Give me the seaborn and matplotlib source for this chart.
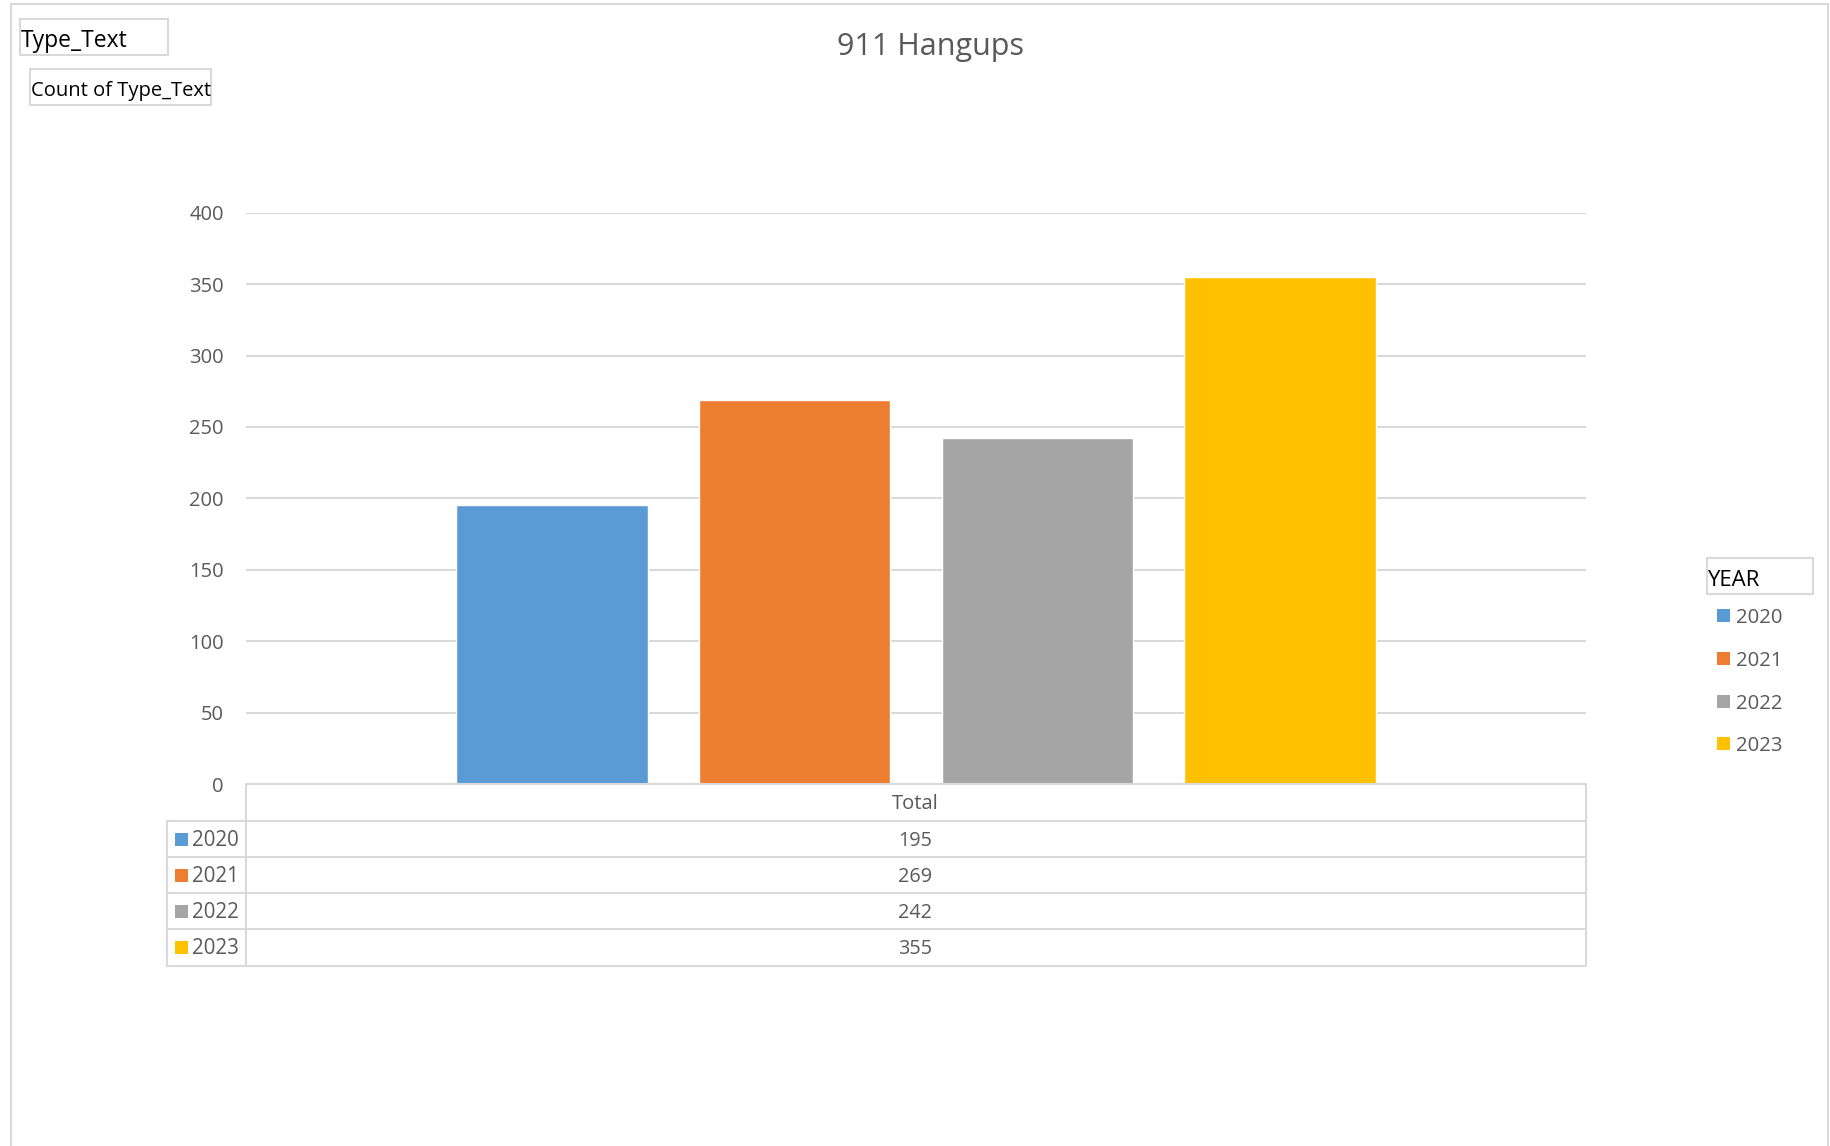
import matplotlib
matplotlib.use("Agg")
import matplotlib.pyplot as plt
from matplotlib.patches import Rectangle
from matplotlib.lines import Line2D
import pandas as pd
import seaborn as sns

years = ["2020", "2021", "2022", "2023"]
counts = [195, 269, 242, 355]
category = "Total"
colors = ["#5B9BD5", "#ED7D31", "#A5A5A5", "#FFC000"]
yticks = [0, 50, 100, 150, 200, 250, 300, 350, 400]

W, H = 1830, 1146
GRID = "#D9D9D9"
TXT = "#595959"

sns.set_style("white")
plt.rcParams["font.family"] = ["Open Sans", "DejaVu Sans"]

df = pd.DataFrame({"cat": [category] * len(years), "YEAR": years, "count": counts})

fig = plt.figure(figsize=(W / 100, H / 100), dpi=100)


def fx(px):
    return px / W


def fy(py):
    return 1 - py / H


def hline(x0, x1, y, color=GRID, lw=1.5):
    fig.add_artist(Line2D([fx(x0), fx(x1)], [fy(y), fy(y)], color=color, lw=lw))


def vline(x, y0, y1, color=GRID, lw=1.5):
    fig.add_artist(Line2D([fx(x), fx(x)], [fy(y0), fy(y1)], color=color, lw=lw))


def box(x0, y0, x1, y1):
    fig.add_artist(Rectangle((fx(x0), fy(y1)), fx(x1) - fx(x0), fy(y0) - fy(y1),
                             fill=False, edgecolor=GRID, lw=1.5))


# plot area
ax_l, ax_r, ax_t, ax_b = 246, 1586, 212.7, 784
ax = fig.add_axes([fx(ax_l), fy(ax_b), fx(ax_r) - fx(ax_l), (ax_b - ax_t) / H])
sns.barplot(df, x="cat", y="count", hue="YEAR", palette=colors, width=0.725, gap=0.21,
            legend=False, saturation=1, ax=ax, zorder=3)
ax.set_ylim(0, 400)
ax.set_xlim(-0.5, 0.5)
ax.set_yticks(yticks)
ax.set_yticklabels([str(t) for t in yticks], fontsize=14.5, color=TXT)
ax.set_xticks([])
ax.set_xlabel("")
ax.set_ylabel("")
ax.tick_params(axis="y", length=0, pad=16)
ax.yaxis.grid(True, color=GRID, lw=1.5, zorder=0)
ax.set_axisbelow(True)
for s in ax.spines.values():
    s.set_visible(False)

# title
fig.text(fx(931), fy(47), "911 Hangups", ha="center", va="center", fontsize=22, color=TXT)

# outer chart frame
hline(11, 1828, 4)
vline(11, 4, H + 5)
vline(1828, 4, H + 5)

# field buttons
box(20, 19, 168, 55)
fig.text(fx(21), fy(41), "Type_Text", ha="left", va="center", fontsize=16.5, color="black")
box(30, 69, 211, 105)
fig.text(fx(31), fy(91), "Count of Type_Text", ha="left", va="center", fontsize=14.5, color="black")

# data table under the axis
row_y = [821, 857, 893, 929, 966]
hline(ax_l, ax_r, ax_b)
vline(ax_l, ax_b, row_y[-1])
vline(ax_r, ax_b, row_y[-1])
vline(167, row_y[0], row_y[-1])
for y in row_y:
    hline(167, ax_r, y)
fig.text(fx(915), fy((ax_b + row_y[0]) / 2 + 1.5), category, ha="center", va="center",
         fontsize=14.5, color=TXT)
for i, (yr, c, col) in enumerate(zip(years, counts, colors)):
    yc = (row_y[i] + row_y[i + 1]) / 2
    fig.add_artist(Rectangle((fx(175), fy(yc + 6.5)), 13 / W, 13 / H, color=col, lw=0))
    fig.text(fx(192), fy(yc + 1.5), yr, ha="left", va="center", fontsize=14.8, color=TXT)
    fig.text(fx(915), fy(yc + 1.5), str(c), ha="center", va="center", fontsize=14.3, color=TXT)

# legend
box(1707, 558, 1813, 594)
fig.text(fx(1707), fy(580), "YEAR", ha="left", va="center", fontsize=16, color="black")
leg_y = [615, 658, 701, 743]
for yr, col, yc in zip(years, colors, leg_y):
    fig.add_artist(Rectangle((fx(1717), fy(yc + 6.5)), 13 / W, 13 / H, color=col, lw=0))
    fig.text(fx(1736), fy(yc + 3), yr, ha="left", va="center", fontsize=14.6, color=TXT)

fig.savefig("out.png", dpi=100, facecolor="white")
